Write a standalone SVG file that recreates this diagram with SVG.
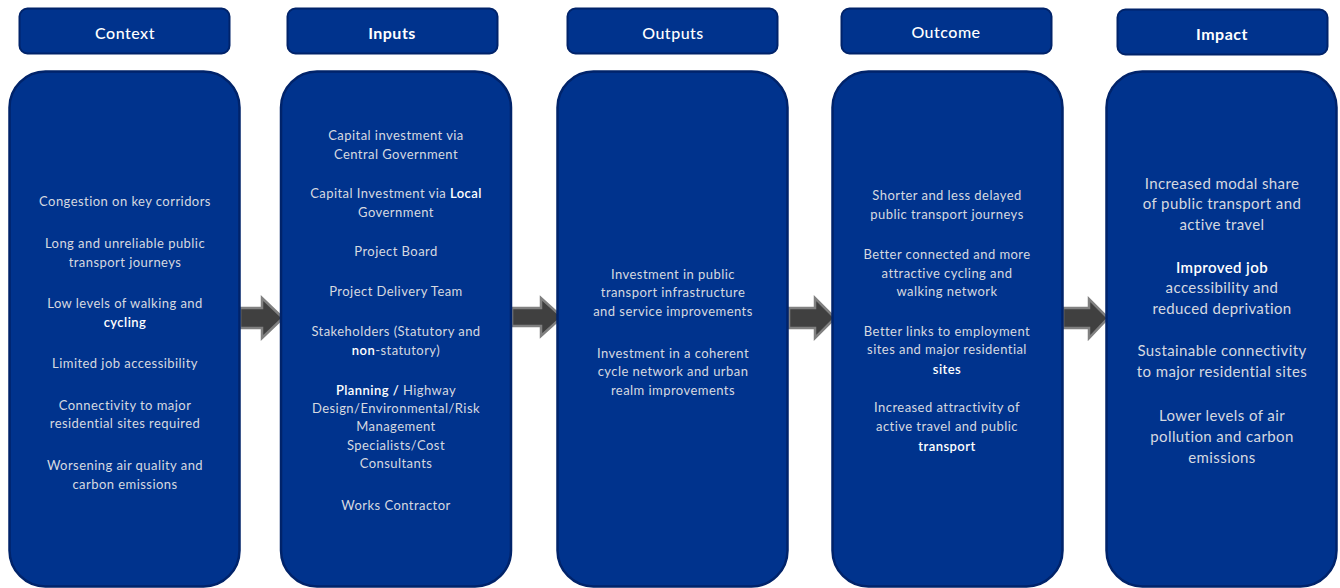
<svg xmlns="http://www.w3.org/2000/svg" width="1340" height="588" viewBox="0 0 1340 588">
<style>
.hdr{fill:#00338d;stroke:#00236a;stroke-width:2}
.box{fill:#00338d;stroke:#00236a;stroke-width:2.5}
.ht{font-family:Lato,"Liberation Sans",sans-serif;font-size:16px;fill:#ffffff;text-anchor:middle;font-weight:500;letter-spacing:0.5px}
.ht2{font-weight:700}
.t{font-family:Lato,"Liberation Sans",sans-serif;font-size:13px;fill:#d6d9e0;text-anchor:middle;letter-spacing:0.45px}
.tl{font-size:15px;letter-spacing:0.4px}
.w{fill:#ffffff;font-weight:600}
.arr{fill:#404040;stroke:#808080;stroke-width:2.5;stroke-linejoin:miter}
</style>
<rect width="1340" height="588" fill="#ffffff"/>
<g id="connectors">
<path class="arr" d="M240,308 H262 V298 L283,318 L262,338 V328 H240 Z"/>
<path class="arr" d="M512,308 H541 V298 L562,317 L541,336 V326 H512 Z"/>
<path class="arr" d="M789,308 H815 V298 L835,318 L815,338 V328 H789 Z"/>
<path class="arr" d="M1063,308 H1089 V299 L1108,318 L1089,338 V328 H1063 Z"/>
</g>
<g id="context">
<rect class="hdr" x="19.5" y="8.5" width="210" height="45" rx="8"/>
<text class="ht" x="125" y="39">Context</text>
<rect class="box" x="9.5" y="71.5" width="230" height="515" rx="36"/>
<text class="t" x="125" y="206">Congestion on key corridors</text>
<text class="t" x="125" y="248">Long and unreliable public</text>
<text class="t" x="125" y="267">transport journeys</text>
<text class="t" x="125" y="308">Low levels of walking and</text>
<text class="t" x="125" y="327"><tspan class="w">cycling</tspan></text>
<text class="t" x="125" y="368">Limited job accessibility</text>
<text class="t" x="125" y="410">Connectivity to major</text>
<text class="t" x="125" y="428">residential sites required</text>
<text class="t" x="125" y="470">Worsening air quality and</text>
<text class="t" x="125" y="489">carbon emissions</text>
</g>
<g id="inputs">
<rect class="hdr" x="287.5" y="8.5" width="210" height="45" rx="8"/>
<text class="ht ht2" x="392" y="39">Inputs</text>
<rect class="box" x="281" y="71.5" width="230" height="515" rx="36"/>
<text class="t" x="396" y="140">Capital investment via</text>
<text class="t" x="396" y="159">Central Government</text>
<text class="t" x="396" y="198">Capital Investment via <tspan class="w">Local</tspan></text>
<text class="t" x="396" y="217">Government</text>
<text class="t" x="396" y="256">Project Board</text>
<text class="t" x="396" y="296">Project Delivery Team</text>
<text class="t" x="396" y="336">Stakeholders (Statutory and</text>
<text class="t" x="396" y="355"><tspan class="w">non</tspan>-statutory)</text>
<text class="t" x="396" y="395"><tspan class="w">Planning /</tspan> Highway</text>
<text class="t" x="396" y="413">Design/Environmental/Risk</text>
<text class="t" x="396" y="431">Management</text>
<text class="t" x="396" y="450">Specialists/Cost</text>
<text class="t" x="396" y="468">Consultants</text>
<text class="t" x="396" y="510">Works Contractor</text>
</g>
<g id="outputs">
<rect class="hdr" x="567.5" y="8.5" width="210" height="45" rx="8"/>
<text class="ht" x="673" y="39">Outputs</text>
<rect class="box" x="557.5" y="71.5" width="230" height="515" rx="36"/>
<text class="t" x="673" y="279">Investment in public</text>
<text class="t" x="673" y="297">transport infrastructure</text>
<text class="t" x="673" y="316">and service improvements</text>
<text class="t" x="673" y="358">Investment in a coherent</text>
<text class="t" x="673" y="376">cycle network and urban</text>
<text class="t" x="673" y="395">realm improvements</text>
</g>
<g id="outcome">
<rect class="hdr" x="841.5" y="8.5" width="210" height="45" rx="8"/>
<text class="ht" x="946" y="38">Outcome</text>
<rect class="box" x="832.5" y="71.5" width="230" height="515" rx="36"/>
<text class="t" x="947" y="200">Shorter and less delayed</text>
<text class="t" x="947" y="219">public transport journeys</text>
<text class="t" x="947" y="259">Better connected and more</text>
<text class="t" x="947" y="278">attractive cycling and</text>
<text class="t" x="947" y="296">walking network</text>
<text class="t" x="947" y="336">Better links to employment</text>
<text class="t" x="947" y="354">sites and major residential</text>
<text class="t" x="947" y="374"><tspan class="w">sites</tspan></text>
<text class="t" x="947" y="412">Increased attractivity of</text>
<text class="t" x="947" y="431">active travel and public</text>
<text class="t" x="947" y="451"><tspan class="w">transport</tspan></text>
</g>
<g id="impact">
<rect class="hdr" x="1117.5" y="9.5" width="210" height="45" rx="8"/>
<text class="ht ht2" x="1222" y="40">Impact</text>
<rect class="box" x="1106.5" y="71.5" width="230" height="515" rx="36"/>
<text class="t tl" x="1222" y="189">Increased modal share</text>
<text class="t tl" x="1222" y="209">of public transport and</text>
<text class="t tl" x="1222" y="230">active travel</text>
<text class="t tl" x="1222" y="273"><tspan class="w">Improved job</tspan></text>
<text class="t tl" x="1222" y="293">accessibility and</text>
<text class="t tl" x="1222" y="314">reduced deprivation</text>
<text class="t tl" x="1222" y="356">Sustainable connectivity</text>
<text class="t tl" x="1222" y="377">to major residential sites</text>
<text class="t tl" x="1222" y="421">Lower levels of air</text>
<text class="t tl" x="1222" y="442">pollution and carbon</text>
<text class="t tl" x="1222" y="463">emissions</text>
</g>
</svg>
